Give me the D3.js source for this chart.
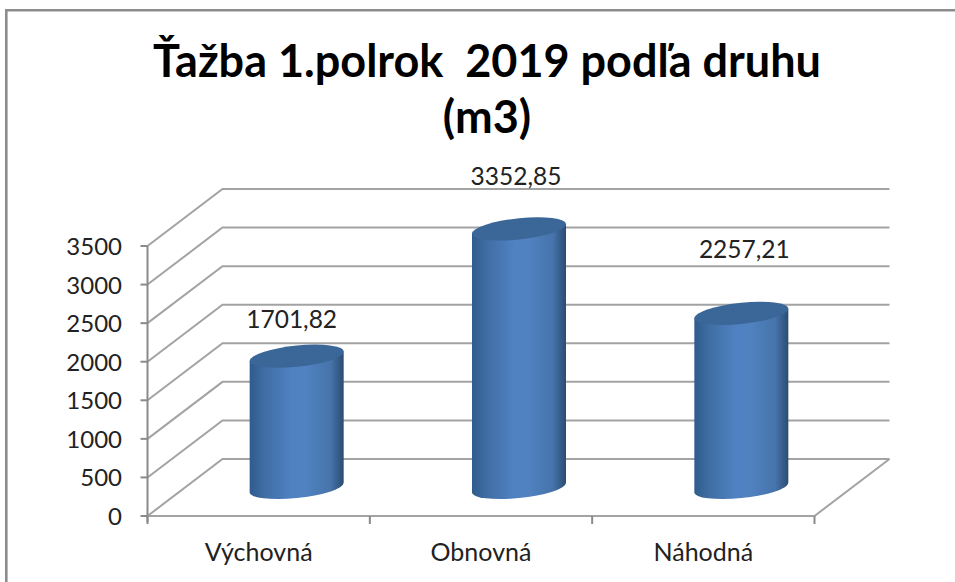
<!DOCTYPE html>
<html>
<head>
<meta charset="utf-8">
<script src="https://cdn.jsdelivr.net/npm/d3@7"></script>
<style>
  html, body { margin: 0; padding: 0; background: #fff; }
  svg { display: block; }
  text { font-family: Lato, "Open Sans", sans-serif; fill: #222; }
</style>
</head>
<body>
<div id="chart"></div>
<script>
var categories = ["Výchovná", "Obnovná", "Náhodná"];
var values = [1701.82, 3352.85, 2257.21];
var valueLabels = ["1701,82", "3352,85", "2257,21"];
var yTicks = [0, 500, 1000, 1500, 2000, 2500, 3000, 3500];
var titleLines = ["Ťažba 1.polrok  2019 podľa druhu", "(m3)"];

var w = 955,
    h = 582;

var svg = d3.select("#chart")
  .append("svg")
  .attr("width", w)
  .attr("height", h);

// x runs along the front of the floor, y up the front axis
var x = d3.scaleBand().domain(categories).range([147.5, 814.5]);
var y = d3.scaleLinear().domain([0, 3500]).range([516, 246]);

// the fake 3d depth: back wall is shifted by this much
var depthX = 75,
    depthY = -57;

var barRx = 47,
    barRy = 10.6,
    barShift = 38,
    shear = -0.1;

// the data labels sit unevenly in the original, nudge each one
var labelNudgeX = [-5, -3, 3];
var labelNudgeY = [-28, -44, -55];

var gridColor = "#a3a3a3";
var axisColor = "#8a8a8a";

var defs = svg.append("defs");
var grad = defs.append("linearGradient").attr("id", "barFill");
grad.append("stop").attr("offset", "0%").attr("stop-color", "#2f5b8c");
grad.append("stop").attr("offset", "15%").attr("stop-color", "#3f6da3");
grad.append("stop").attr("offset", "45%").attr("stop-color", "#5082c3");
grad.append("stop").attr("offset", "60%").attr("stop-color", "#5082c0");
grad.append("stop").attr("offset", "86%").attr("stop-color", "#4674ab");
grad.append("stop").attr("offset", "100%").attr("stop-color", "#2b4c72");

// frame, only left and top are inside the picture
svg.append("polyline")
  .attr("fill", "none")
  .attr("stroke", "#8c8c8c")
  .attr("stroke-width", 2.6)
  .attr("points", [[6.3, h], [6.3, 10.3], [w, 10.3]].join(" "));

// title
svg.selectAll(".title")
  .data(titleLines)
  .enter().append("text")
  .attr("class", "title")
  .attr("x", 487)
  .attr("y", function(d, i) { return 77 + i * 56 })
  .attr("text-anchor", "middle")
  .attr("font-size", 45)
  .attr("font-weight", 700)
  .style("fill", "#000")
  .style("white-space", "pre")
  .text(function(d) { return d });

// wall gridlines and the slanted part on the side wall
svg.selectAll(".grid")
  .data(yTicks)
  .enter().append("polyline")
  .attr("class", "grid")
  .attr("fill", "none")
  .attr("stroke", gridColor)
  .attr("stroke-width", 2)
  .attr("points", function(d) {
    var y0 = y(d);
    return [[x.range()[0], y0], [x.range()[0] + depthX, y0 + depthY], [x.range()[1] + depthX, y0 + depthY]].join(" ");
  });

// floor front edge and right side
svg.append("polyline")
  .attr("fill", "none")
  .attr("stroke", gridColor)
  .attr("stroke-width", 2)
  .attr("points", [[x.range()[0], y(0)], [x.range()[1], y(0)], [x.range()[1] + depthX, y(0) + depthY]].join(" "));

// y axis
svg.append("line")
  .attr("x1", x.range()[0]).attr("x2", x.range()[0])
  .attr("y1", y(3500)).attr("y2", y(0) + 6)
  .attr("stroke", axisColor).attr("stroke-width", 2);

svg.selectAll(".ytick")
  .data(yTicks)
  .enter().append("line")
  .attr("class", "ytick")
  .attr("x1", x.range()[0] - 7).attr("x2", x.range()[0])
  .attr("y1", function(d) { return y(d) })
  .attr("y2", function(d) { return y(d) })
  .attr("stroke", axisColor).attr("stroke-width", 2);

svg.selectAll(".ylabel")
  .data(yTicks)
  .enter().append("text")
  .attr("class", "ylabel")
  .attr("x", 122)
  .attr("y", function(d) { return y(d) + 9 })
  .attr("text-anchor", "end")
  .attr("font-size", 24)
  .text(function(d) { return d });

// x ticks at band edges
svg.selectAll(".xtick")
  .data(d3.range(categories.length + 1))
  .enter().append("line")
  .attr("class", "xtick")
  .attr("x1", function(d) { return x.range()[0] + d * x.bandwidth() })
  .attr("x2", function(d) { return x.range()[0] + d * x.bandwidth() })
  .attr("y1", y(0))
  .attr("y2", y(0) + 8)
  .attr("stroke", axisColor).attr("stroke-width", 2);

svg.selectAll(".xlabel")
  .data(categories)
  .enter().append("text")
  .attr("class", "xlabel")
  .attr("x", function(d) { return x(d) + x.bandwidth() / 2 })
  .attr("y", 561)
  .attr("text-anchor", "middle")
  .attr("font-size", 25)
  .text(function(d) { return d });

// cylinders sit halfway into the depth
var bars = svg.selectAll(".bar")
  .data(values)
  .enter().append("g")
  .attr("class", "bar")
  .attr("transform", function(d, i) {
    var cx = x(categories[i]) + x.bandwidth() / 2 + barShift;
    return "matrix(1," + shear + ",0,1," + cx + "," + (y(0) + depthY / 2) + ")";
  });

bars.append("path")
  .attr("fill", "url(#barFill)")
  .attr("d", function(d) {
    var top = y(d) - y(0);
    return "M" + (-barRx) + "," + top +
      "L" + (-barRx) + ",0" +
      "A" + barRx + "," + barRy + " 0 0 0 " + barRx + ",0" +
      "L" + barRx + "," + top + "Z";
  });

bars.append("ellipse")
  .attr("cx", 0)
  .attr("cy", function(d) { return y(d) - y(0) })
  .attr("rx", barRx)
  .attr("ry", barRy)
  .attr("fill", "#3b6698");

// value labels above the bars
svg.selectAll(".vlabel")
  .data(values)
  .enter().append("text")
  .attr("class", "vlabel")
  .attr("x", function(d, i) { return x(categories[i]) + x.bandwidth() / 2 + barShift + labelNudgeX[i] })
  .attr("y", function(d, i) { return y(d) + depthY / 2 + labelNudgeY[i] })
  .attr("text-anchor", "middle")
  .attr("font-size", 24.5)
  .text(function(d, i) { return valueLabels[i] });
</script>
</body>
</html>
